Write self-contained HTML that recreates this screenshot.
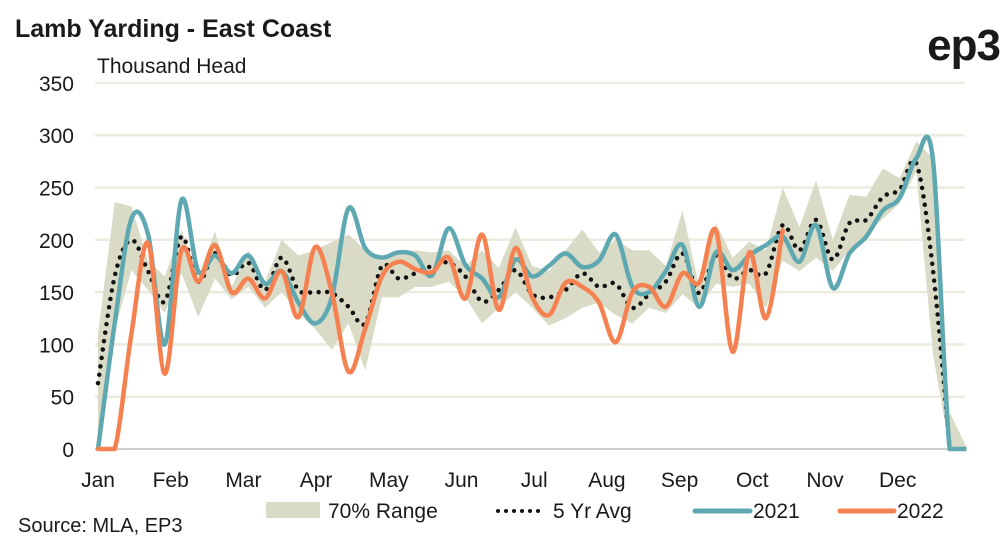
<!DOCTYPE html>
<html><head><meta charset="utf-8"><style>
body{margin:0;background:#fff;font-family:"Liberation Sans",sans-serif;}
svg text{font-family:"Liberation Sans",sans-serif;fill:#1a1a1a;}
</style></head><body>
<svg id="chart" width="1006" height="543" viewBox="0 0 1006 543" xmlns="http://www.w3.org/2000/svg">
<text x="15" y="37" font-size="25" font-weight="bold">Lamb Yarding - East Coast</text>
<text x="1000" y="60" font-size="44" font-weight="bold" text-anchor="end" letter-spacing="-1">ep3</text>
<text x="97" y="73" font-size="21">Thousand Head</text>
<g id="grid"></g><g id="band"></g><g id="lines"></g><g id="ylabels"></g><g id="xlabels"></g>
<g>
<rect x="266" y="502" width="54" height="16" fill="#dadbc7"/>
<text x="328" y="518" font-size="21">70% Range</text>
<line x1="498" y1="511" x2="545" y2="511" stroke="#111" stroke-width="4" stroke-dasharray="0 8" stroke-linecap="round"/>
<text x="553" y="518" font-size="21">5 Yr Avg</text>
<line x1="695" y1="511" x2="750" y2="511" stroke="#5ea8b1" stroke-width="5" stroke-linecap="round"/>
<text x="753" y="518" font-size="21">2021</text>
<line x1="840" y1="511" x2="894" y2="511" stroke="#f58150" stroke-width="5" stroke-linecap="round"/>
<text x="897" y="518" font-size="21">2022</text>
</g>
<text x="18" y="532" font-size="20">Source: MLA, EP3</text>
</svg>
<script>
const months=["Jan","Feb","Mar","Apr","May","Jun","Jul","Aug","Sep","Oct","Nov","Dec"];
const yTicks=[0,50,100,150,200,250,300,350];
const y2021=[0,120,220,205,100,238,170,185,168,185,158,170,140,120,145,230,192,183,188,185,166,211,176,163,145,181,165,175,187,174,180,205,155,150,170,195,136,188,171,185,195,203,179,214,154,187,203,228,240,278,276,0,0];
const y2022=[0,0,110,197,72,190,160,195,150,163,144,170,126,193,150,74,115,165,179,172,169,183,144,205,133,192,145,128,159,155,140,102,150,155,136,168,159,209,93,188,125,209];
const yAvg=[63,165,200,170,141,203,160,187,166,178,152,183,152,150,149,136,120,175,163,168,175,178,165,141,152,171,148,145,152,168,155,158,135,148,160,187,149,185,163,171,168,214,190,219,181,216,219,241,248,273,171,0];
const rangeHi=[110,236,232,180,165,210,165,208,155,190,160,200,185,190,198,205,190,180,188,190,188,190,175,190,173,212,175,170,190,210,188,200,190,190,175,228,155,216,183,198,190,250,212,257,200,243,241,268,259,294,278,35,2];
const rangeLo=[0,114,171,152,130,168,126,163,143,155,135,150,130,115,95,120,75,145,145,155,155,160,145,120,135,150,135,118,125,135,140,128,120,135,130,148,135,158,155,158,135,180,170,183,170,190,205,220,235,265,90,0,0];

const NS="http://www.w3.org/2000/svg";
const X=i=>98+i*16.7;
const Y=v=>449-v*1.046;
const MX=m=>98+m*72.7;
function mk(tag,attrs,parent){const e=document.createElementNS(NS,tag);for(const k in attrs)e.setAttribute(k,attrs[k]);parent.appendChild(e);return e;}
function smooth(arr){const p=arr.map((v,i)=>[X(i),Y(v)]);let d=`M${p[0][0]},${p[0][1]}`;
 for(let i=0;i<p.length-1;i++){const p0=p[i-1]||p[i],p1=p[i],p2=p[i+1],p3=p[i+2]||p2;
  const c1=[p1[0]+(p2[0]-p0[0])/6,p1[1]+(p2[1]-p0[1])/6],c2=[p2[0]-(p3[0]-p1[0])/6,p2[1]-(p3[1]-p1[1])/6];
  d+=`C${c1[0]},${Math.min(449,c1[1])} ${c2[0]},${Math.min(449,c2[1])} ${p2[0]},${p2[1]}`;}return d;}
const grid=document.getElementById('grid'),yl=document.getElementById('ylabels'),xl=document.getElementById('xlabels');
yTicks.forEach(t=>{
 const l=mk('line',{x1:95,x2:965,y1:Y(t),y2:Y(t),stroke:t===0?'#cfcfcf':'#ebebdf','stroke-width':t===0?2:2.5},grid);
 
 
 const tx=mk('text',{x:74,y:Y(t)+8,'font-size':21,'text-anchor':'end'},yl);tx.textContent=t;
 
 
});
months.forEach((m,i)=>{const tx=mk('text',{x:MX(i),y:487,'font-size':21,'text-anchor':'middle'},xl);tx.textContent=m;
 
 });
let bd=rangeHi.map((v,i)=>(i?'L':'M')+X(i)+','+Y(v)).join('');
for(let i=rangeLo.length-1;i>=0;i--)bd+='L'+X(i)+','+Y(rangeLo[i]);
const band=mk('path',{d:bd+'Z',fill:'#dadbc7'},document.getElementById('band'));


const lines=document.getElementById('lines');
const avg=mk('path',{d:smooth(yAvg),fill:'none',stroke:'#111','stroke-width':4.5,'stroke-dasharray':'0 8.5','stroke-linecap':'round'},lines);


const l21=mk('path',{d:smooth(y2021),fill:'none',stroke:'#5ea8b1','stroke-width':4.5,'stroke-linejoin':'round'},lines);


const l22=mk('path',{d:smooth(y2022),fill:'none',stroke:'#f58150','stroke-width':4.5,'stroke-linejoin':'round','stroke-linecap':'round'},lines);


</script>
</body></html>
